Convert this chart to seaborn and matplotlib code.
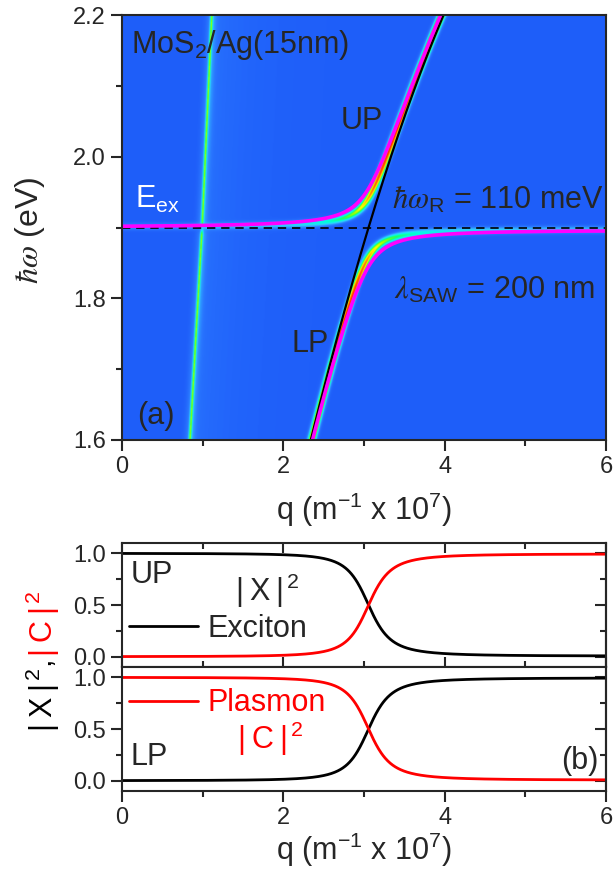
import numpy as np
import matplotlib
matplotlib.use("Agg")
import matplotlib.pyplot as plt
import seaborn as sns
import pandas as pd
from matplotlib.colors import LinearSegmentedColormap
from matplotlib.lines import Line2D
from matplotlib.ticker import MultipleLocator, FixedLocator

# ---------------- data ----------------
E_EX = 1.90            # exciton energy (eV), dashed line
RABI = 0.110           # Rabi splitting (eV), from label
RABI_MAP = 0.085       # apparent splitting of the simulated map bands
q_plasmon = [2.34, 2.81, 3.04, 3.59, 3.98]      # black plasmon line (1e7 m^-1)
E_plasmon = [1.60, 1.80, 1.90, 2.08, 2.20]      # eV
q_light = [0.84, 0.99, 1.11]                    # light line in the map
E_light = [1.60, 1.90, 2.20]
q_ticks = [0, 2, 4, 6]
E_ticks = [1.6, 1.8, 2.0, 2.2]
frac_ticks = [0.0, 0.5, 1.0]
frac_ticklabels = ["0.0", "0.5", "1.0"]

# ---------------- style ----------------
sns.set_style("ticks")
plt.rcParams["font.family"] = ["Liberation Sans", "DejaVu Sans"]
plt.rcParams["mathtext.fontset"] = "custom"
plt.rcParams["mathtext.rm"] = "Liberation Sans"
plt.rcParams["mathtext.it"] = "Liberation Sans:italic"
plt.rcParams["mathtext.bf"] = "Liberation Sans:bold"
plt.rcParams["mathtext.sf"] = "Liberation Sans"
plt.rcParams["axes.linewidth"] = 1.5

TICK_FS = 17
LAB_FS = 22
ANN_FS = 22
TS = "\u2009"   # thin space

fig = plt.figure(figsize=(6.13, 8.73), dpi=100)
W_PX, H_PX = 613.0, 873.0
L = 122 / W_PX
W = 484 / W_PX
ax_a = fig.add_axes([L, 1 - 440 / H_PX, W, 425 / H_PX])
ax_u = fig.add_axes([L, 1 - 667 / H_PX, W, 124 / H_PX])
ax_l = fig.add_axes([L, 1 - 791 / H_PX, W, 124 / H_PX])

# ---------------- coupled oscillator from read values ----------------
q = np.linspace(0, 6, 961)
E = np.linspace(1.6, 2.2, 851)
Q, EE = np.meshgrid(q, E)
pl_coef = np.polyfit(q_plasmon, E_plasmon, 2)
E_pl = np.polyval(pl_coef, q)


def branches(rabi):
    d = E_pl - E_EX
    root = np.sqrt(d ** 2 + rabi ** 2)
    up = 0.5 * (E_pl + E_EX) + 0.5 * root
    lp = 0.5 * (E_pl + E_EX) - 0.5 * root
    x_up = 0.5 * (1 - d / root)
    return up, lp, x_up


UP, LP, X_UP = branches(RABI)
C_UP = 1 - X_UP
X_LP = C_UP
C_LP = X_UP

# ---------------- simulated reflectance-like map ----------------
PX = 484 / 6.0
PY = 425 / 0.6


def band(Eb, amp, w):
    slope = np.gradient(Eb, q) * PY / PX
    d = (EE - Eb[None, :]) * PY / np.sqrt(1 + slope[None, :] ** 2)
    return amp[None, :] * np.exp(-(d / w) ** 2)


up_m, lp_m, xu_m = branches(RABI_MAP)
Z = np.full_like(EE, 0.02)
Z += band(up_m, (1 - xu_m) ** 0.3, 3.4)
Z += band(lp_m, xu_m ** 0.3, 3.4)

qb = np.interp(EE, E_light, q_light)
dqdE = np.gradient(np.interp(E, E_light, q_light), E)
sl = dqdE * PX / PY
dl = (Q - qb) * PX / np.sqrt(1 + sl[:, None] ** 2)
gap = 1 - 0.85 * np.exp(-((EE - E_EX) / 0.006) ** 2)
Z += gap * (0.45 * np.exp(-(dl / 1.3) ** 2) + 0.12 * np.exp(-(dl / 5.0) ** 2))
Z += 0.06 * np.exp(-np.clip(Q - qb, 0, None) / 0.5) * (Q > qb)
Z = np.clip(Z, 0, 1)

cmap = LinearSegmentedColormap.from_list(
    "map",
    [(0.00, "#1c58f8"), (0.10, "#2a78ff"), (0.25, "#33ccff"),
     (0.38, "#00ffe0"), (0.50, "#20ff60"), (0.62, "#a0ff00"),
     (0.72, "#ffff00"), (0.85, "#ff9000"), (1.00, "#ff2000")])

ax_a.imshow(Z, extent=[0, 6, 1.6, 2.2], origin="lower", aspect="auto",
            cmap=cmap, vmin=0, vmax=1, interpolation="bilinear", zorder=0)

mask_pl = (E_pl > 1.55) & (E_pl < 2.25)
sns.lineplot(x=q[mask_pl], y=E_pl[mask_pl], color="black", lw=1.6, sort=False, ax=ax_a)
ax_a.axhline(E_EX, color="black", lw=1.2, ls=(0, (5, 3.5)))
sns.lineplot(x=q, y=UP, color="#ff00ff", lw=2.6, sort=False, ax=ax_a)
sns.lineplot(x=q, y=LP, color="#ff00ff", lw=2.6, sort=False, ax=ax_a)

ax_a.set_xlim(0, 6)
ax_a.set_ylim(1.6, 2.2)
ax_a.xaxis.set_major_locator(FixedLocator(q_ticks))
ax_a.xaxis.set_minor_locator(MultipleLocator(1))
ax_a.yaxis.set_major_locator(FixedLocator(E_ticks))
ax_a.yaxis.set_minor_locator(MultipleLocator(0.1))
ax_a.set_yticklabels([f"{v:.1f}" for v in E_ticks])
ax_a.tick_params(axis="both", which="both", direction="out", top=False, right=False,
                 labelsize=TICK_FS, width=1.5)
ax_a.tick_params(which="major", length=8)
ax_a.tick_params(which="minor", length=4.5)
ax_a.set_xlabel(r"q (m$^{-1}$ x 10$^{7}$)", fontsize=LAB_FS, labelpad=9)
ax_a.set_ylabel("")

ax_a.text(0.11, 2.158, r"MoS$_2$/Ag(15nm)", fontsize=ANN_FS, va="center", ha="left")
ax_a.text(2.97, 2.05, "UP", fontsize=ANN_FS, va="center", ha="center")
ax_a.text(3.35, 1.927, r"$\hbar\omega_\mathregular{R}$ = 110 meV", fontsize=ANN_FS,
          va="baseline", ha="left", math_fontfamily="stix")
ax_a.text(0.16, 1.927, r"E$_\mathrm{ex}$", fontsize=ANN_FS, color="white",
          va="baseline", ha="left")
ax_a.text(3.37, 1.80, r"$\lambda_\mathregular{SAW}$ = 200 nm", fontsize=ANN_FS,
          va="baseline", ha="left", math_fontfamily="stix")
ax_a.text(2.33, 1.736, "LP", fontsize=ANN_FS, va="center", ha="center")
ax_a.text(0.19, 1.634, "(a)", fontsize=ANN_FS, va="center", ha="left")

fig.text(30 / W_PX, 1 - 230 / H_PX, r"$\hbar\omega$ (eV)", fontsize=LAB_FS + 1,
         rotation=90, va="center", ha="center", math_fontfamily="stix")

# ---------------- Hopfield coefficients ----------------
df_u = pd.DataFrame({"q": q, "X": X_UP, "C": C_UP})
df_l = pd.DataFrame({"q": q, "X": X_LP, "C": C_LP})
sns.lineplot(data=df_u, x="q", y="X", color="black", lw=2.0, ax=ax_u)
sns.lineplot(data=df_u, x="q", y="C", color="#ff0000", lw=2.0, ax=ax_u)
sns.lineplot(data=df_l, x="q", y="X", color="black", lw=2.0, ax=ax_l)
sns.lineplot(data=df_l, x="q", y="C", color="#ff0000", lw=2.0, ax=ax_l)

for ax in (ax_u, ax_l):
    ax.set_xlim(0, 6)
    ax.set_ylim(-0.1, 1.1)
    ax.set_xlabel("")
    ax.set_ylabel("")
    ax.xaxis.set_major_locator(FixedLocator(q_ticks))
    ax.xaxis.set_minor_locator(MultipleLocator(1))
    ax.yaxis.set_major_locator(FixedLocator(frac_ticks))
    ax.yaxis.set_minor_locator(MultipleLocator(0.25))
    ax.set_yticklabels(frac_ticklabels)
    ax.tick_params(axis="y", which="both", direction="out", left=True, right=False,
                   labelsize=TICK_FS, width=1.5)
    ax.tick_params(axis="y", which="major", length=8)
    ax.tick_params(axis="y", which="minor", length=4.5)
    sec = ax.secondary_yaxis("right")
    sec.yaxis.set_major_locator(FixedLocator(frac_ticks))
    sec.yaxis.set_minor_locator(MultipleLocator(0.25))
    sec.tick_params(which="both", direction="in", labelright=False, width=1.5)
    sec.tick_params(which="major", length=8)
    sec.tick_params(which="minor", length=4.5)
    sec.spines["right"].set_linewidth(1.5)

ax_u.tick_params(axis="x", which="both", direction="in", bottom=True, top=True,
                 labelbottom=False, width=1.5)
ax_u.tick_params(axis="x", which="major", length=7)
ax_u.tick_params(axis="x", which="minor", length=4)
ax_l.tick_params(axis="x", which="both", direction="out", bottom=True, top=False,
                 labelsize=TICK_FS, width=1.5)
ax_l.tick_params(axis="x", which="major", length=8)
ax_l.tick_params(axis="x", which="minor", length=4.5)
ax_l.set_xlabel(r"q (m$^{-1}$ x 10$^{7}$)", fontsize=LAB_FS, labelpad=1)

ax_u.text(0.11, 0.79, "UP", fontsize=ANN_FS, va="center", ha="left")
ax_u.text(1.80, 0.64, f"|{TS}X{TS}|" + r"$^{\,2}$", fontsize=ANN_FS,
          va="center", ha="center")
ax_u.legend(handles=[Line2D([], [], color="black", lw=2.0)], labels=["Exciton"],
            loc="center left", bbox_to_anchor=(0.0145, 0.308), frameon=False,
            fontsize=ANN_FS, handlelength=2.25, handletextpad=0.33,
            borderpad=0, borderaxespad=0)

ax_l.legend(handles=[Line2D([], [], color="#ff0000", lw=2.0)], labels=["Plasmon"],
            loc="center left", bbox_to_anchor=(0.0145, 0.708), frameon=False,
            fontsize=ANN_FS, handlelength=2.25, handletextpad=0.33,
            borderpad=0, borderaxespad=0, labelcolor="#ff0000")
ax_l.text(1.83, 0.40, f"|{TS}C{TS}|" + r"$^{\,2}$", fontsize=ANN_FS, color="#ff0000",
          va="center", ha="center")
ax_l.text(0.11, 0.23, "LP", fontsize=ANN_FS, va="center", ha="left")
ax_l.text(5.67, 0.19, "(b)", fontsize=ANN_FS, va="center", ha="center")

split = 1 - 657 / H_PX
fig.text(43 / W_PX, split, f"|{TS}X{TS}|" + r"$^{\,2}$" + ", ", fontsize=LAB_FS,
         rotation=90, va="top", ha="center", color="black")
fig.text(43 / W_PX, split, f"|{TS}C{TS}|" + r"$^{\,2}$", fontsize=LAB_FS,
         rotation=90, va="bottom", ha="center", color="#ff0000")

fig.savefig("out.png", dpi=100)
